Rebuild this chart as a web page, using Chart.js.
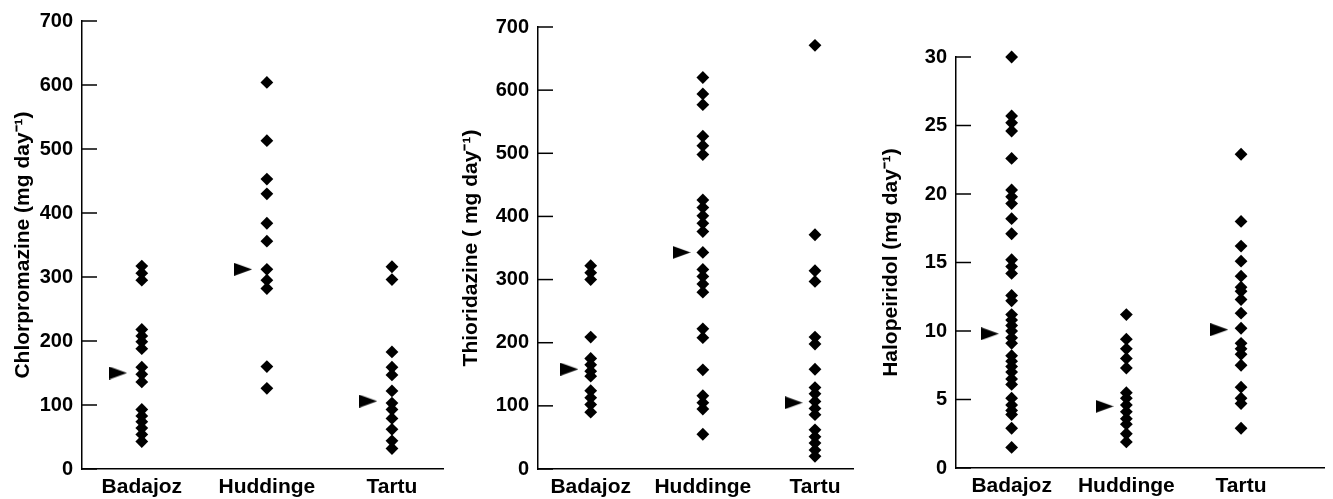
<!DOCTYPE html>
<html><head><meta charset="utf-8">
<script src="https://cdn.jsdelivr.net/npm/chart.js@4/dist/chart.umd.min.js"></script>
<style>
html,body{margin:0;padding:0;background:#fff;}
body{width:1333px;height:499px;position:relative;overflow:hidden;}
canvas{position:absolute;top:0;}
</style></head><body>
<canvas id="c1" width="452" height="499" style="left:0px"></canvas>
<canvas id="c2" width="410" height="499" style="left:452px"></canvas>
<canvas id="c3" width="471" height="499" style="left:862px"></canvas>
<script>
// ---------- data ----------
const categories = ['Badajoz', 'Huddinge', 'Tartu'];

const chlorBadajoz  = [317, 306, 295, 218, 208, 199, 188, 159, 148, 136, 93, 83, 74, 64, 54, 43];
const chlorHuddinge = [604, 513, 453, 430, 384, 356, 312, 295, 282, 160, 126];
const chlorTartu    = [316, 296, 183, 159, 147, 122, 103, 93, 79, 62, 44, 32];
const chlorMedians  = [150, 312, 106];
const chlorTicks    = [0, 100, 200, 300, 400, 500, 600, 700];

const thioBadajoz  = [322, 311, 300, 209, 175, 165, 155, 147, 124, 113, 102, 90];
const thioHuddinge = [620, 594, 577, 527, 512, 498, 426, 414, 401, 389, 376, 343, 316, 305, 293, 280, 222, 208, 157, 116, 105, 95, 55];
const thioTartu    = [671, 371, 314, 297, 209, 198, 158, 129, 119, 107, 96, 86, 62, 51, 41, 30, 20];
const thioMedians  = [158, 343, 105];
const thioTicks    = [0, 100, 200, 300, 400, 500, 600, 700];

const haloBadajoz  = [30.0, 25.7, 25.2, 24.6, 22.6, 20.3, 19.8, 19.3, 18.2, 17.1, 15.2, 14.7, 14.2, 12.6, 12.2, 11.2, 10.8, 10.4, 10.0, 9.5, 9.1, 8.2, 7.8, 7.4, 7.0, 6.5, 6.1, 5.1, 4.6, 4.2, 3.9, 2.9, 1.5];
const haloHuddinge = [11.2, 9.4, 8.7, 8.0, 7.3, 5.5, 5.1, 4.6, 4.1, 3.6, 3.2, 2.5, 1.9];
const haloTartu    = [22.9, 18.0, 16.2, 15.1, 14.0, 13.2, 12.9, 12.3, 11.3, 10.2, 9.1, 8.7, 8.3, 7.5, 5.9, 5.1, 4.7, 2.9];
const haloMedians  = [9.8, 4.5, 10.1];
const haloTicks    = [0, 5, 10, 15, 20, 25, 30];

// ---------- style ----------
const FONT = "'Liberation Sans', Arial, Helvetica, sans-serif";
const ARROW_OFFSET = 0.19;
Chart.defaults.font.family = FONT;
Chart.defaults.color = '#000';

function arrowImage() {
  const c = document.createElement('canvas');
  c.width = 18; c.height = 13;
  const g = c.getContext('2d');
  g.fillStyle = '#000';
  g.beginPath(); g.moveTo(0, 0); g.lineTo(18, 6.5); g.lineTo(0, 13); g.closePath(); g.fill();
  return c;
}
const ARROW = arrowImage();

const innerTicks = {
  id: 'innerTicks',
  afterDatasetsDraw(chart) {
    const y = chart.scales.y, a = chart.chartArea, ctx = chart.ctx;
    ctx.save();
    ctx.strokeStyle = '#000';
    ctx.lineWidth = 1.5;
    y.ticks.forEach(t => {
      const py = y.getPixelForValue(t.value);
      ctx.beginPath(); ctx.moveTo(a.left, py); ctx.lineTo(a.left + 15, py); ctx.stroke();
    });
    ctx.restore();
  }
};

function makePanel(id, groups, medians, yTicks, title, p) {
  const datasets = [{
    data: groups.flatMap((vals, i) => vals.map(v => ({ x: i + 1, y: v }))),
    pointStyle: 'rectRot', pointRadius: 6.4, pointHoverRadius: 6.4,
    backgroundColor: '#000', borderColor: '#000', borderWidth: 0, showLine: false,
    clip: false
  }, {
    data: medians.map((v, i) => ({ x: i + 1 - ARROW_OFFSET, y: v })),
    pointStyle: ARROW, pointRadius: 8, showLine: false, clip: false
  }];
  return new Chart(document.getElementById(id), {
    type: 'scatter',
    data: { datasets },
    plugins: [innerTicks],
    options: {
      responsive: false, animation: false,
      layout: { padding: { top: p.top, right: p.right, left: 0, bottom: 0 } },
      plugins: { legend: { display: false }, tooltip: { enabled: false } },
      scales: {
        x: {
          type: 'linear', min: p.xmin, max: p.xmax,
          afterBuildTicks(s) { s.ticks = categories.map((c, i) => ({ value: i + 1 })); },
          afterFit(s) { s.height = p.xh; },
          ticks: {
            callback: v => categories[Math.round(v) - 1] || '',
            font: { size: 21, weight: 'bold' }, color: '#000', padding: 6,
            autoSkip: false, maxRotation: 0
          },
          grid: { display: true, drawOnChartArea: false, drawTicks: false },
          border: { display: true, color: '#000', width: 1.5 }
        },
        y: {
          min: yTicks[0], max: yTicks[yTicks.length - 1],
          afterBuildTicks(s) { s.ticks = yTicks.map(v => ({ value: v })); },
          afterFit(s) { s.width = p.yw; },
          ticks: { font: { size: 20, weight: 'bold' }, color: '#000', padding: 9 },
          grid: { display: true, drawOnChartArea: false, drawTicks: false },
          border: { display: true, color: '#000', width: 1.5 },
          title: {
            display: true, text: title, color: '#000',
            font: { size: 21, weight: 'bold', lineHeight: 1 },
            padding: { top: p.tp, bottom: 0 }
          }
        }
      }
    }
  });
}

makePanel('c1', [chlorBadajoz, chlorHuddinge, chlorTartu], chlorMedians, chlorTicks,
  'Chlorpromazine (mg day\u207B\u00B9)',
  { top: 21, right: 2, xmin: 0.522, xmax: 3.408, xh: 30, yw: 82, tp: 13 });
makePanel('c2', [thioBadajoz, thioHuddinge, thioTartu], thioMedians, thioTicks,
  'Thioridazine ( mg day\u207B\u00B9)',
  { top: 27, right: 1, xmin: 0.53, xmax: 3.339, xh: 30, yw: 86, tp: 9 });
makePanel('c3', [haloBadajoz, haloHuddinge, haloTartu], haloMedians, haloTicks,
  'Halopeiridol (mg day\u207B\u00B9)',
  { top: 57, right: 0, xmin: 0.515, xmax: 3.723, xh: 31, yw: 94, tp: 19 });
</script>
</body></html>
